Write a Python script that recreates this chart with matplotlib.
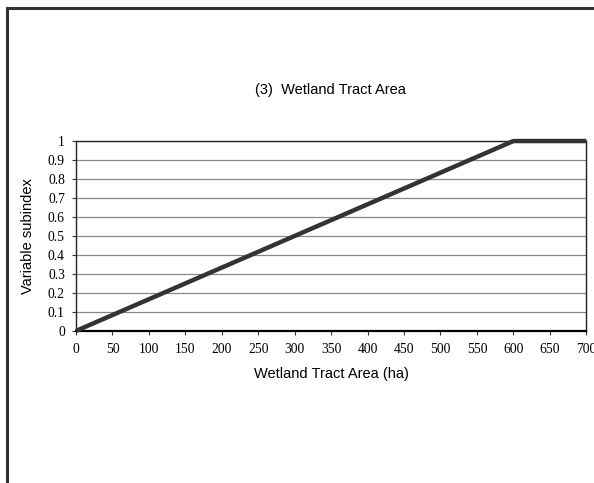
import matplotlib
matplotlib.use("Agg")
import matplotlib.pyplot as plt
from matplotlib.lines import Line2D

# curve breakpoints: subindex rises linearly to 1 at 600 ha, then flat
area_ha = [0, 600, 700]
subindex = [0.0, 1.0, 1.0]
x_ticks = list(range(0, 701, 50))
y_ticks = [0, 0.1, 0.2, 0.3, 0.4, 0.5, 0.6, 0.7, 0.8, 0.9, 1]
y_labels = ["0", "0.1", "0.2", "0.3", "0.4", "0.5", "0.6", "0.7", "0.8", "0.9", "1"]

SANS = "Liberation Sans"
SERIF = "Liberation Serif"

fig = plt.figure(figsize=(5.94, 4.83), dpi=100)
ax = fig.add_axes([0.128, 0.315, 0.859, 0.393])

ax.plot(area_ha, subindex, color="#333333", lw=3.2, solid_capstyle="butt", zorder=4,
        clip_on=False)
ax.set_xlim(0, 700)
ax.set_ylim(0, 1)
ax.set_xticks(x_ticks)
ax.set_yticks(y_ticks)
ax.set_xticklabels([str(v) for v in x_ticks], fontfamily=SERIF, fontsize=9.8)
ax.set_yticklabels(y_labels, fontfamily=SERIF, fontsize=9.8)
ax.tick_params(axis="both", direction="out", length=3, width=0.8, color="#333333")
ax.tick_params(axis="x", pad=6)
ax.tick_params(axis="y", pad=5)
ax.grid(axis="y", color="#888888", lw=0.9)
ax.set_axisbelow(True)
for s in ax.spines.values():
    s.set_color("#222222")
    s.set_linewidth(1.0)
ax.spines["bottom"].set_linewidth(1.6)
ax.spines["bottom"].set_color("black")

ax.set_xlabel("Wetland Tract Area (ha)", fontfamily=SANS, fontsize=10.5, labelpad=8)
ax.set_ylabel("Variable subindex", fontfamily=SANS, fontsize=10.5, labelpad=9)
fig.text(0.556, 0.813, "(3)  Wetland Tract Area", ha="center", va="center",
         fontfamily=SANS, fontsize=10.5)

# page-frame lines (top and left) from the source figure
fig.add_artist(Line2D([0.012, 1.0], [0.983, 0.983], color="#333333", lw=2.2,
                      transform=fig.transFigure))
fig.add_artist(Line2D([0.012, 0.012], [0.0, 0.983], color="#333333", lw=2.2,
                      transform=fig.transFigure))

fig.savefig("out.png", dpi=100)
